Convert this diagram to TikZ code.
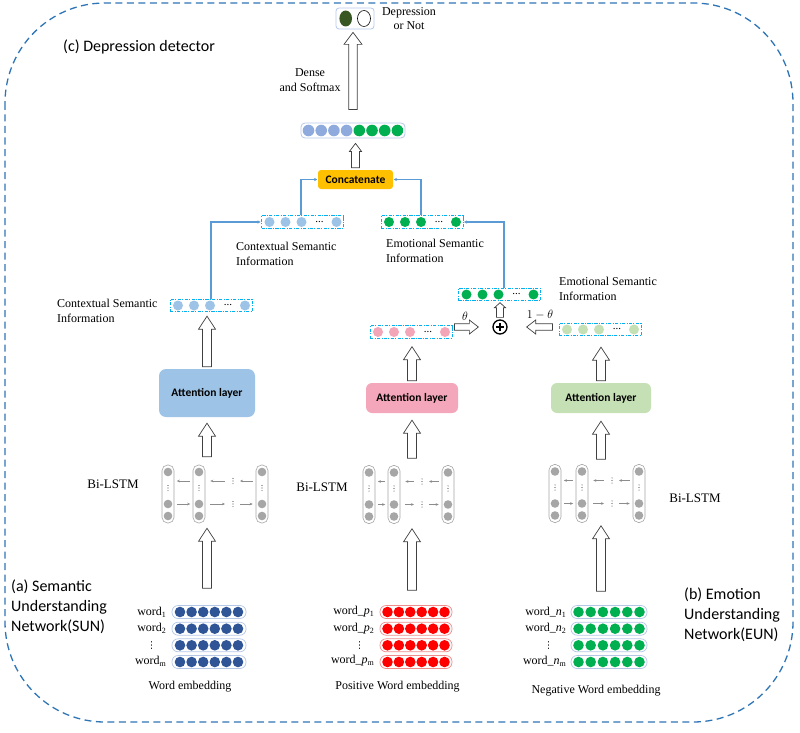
\documentclass[tikz,border=0pt]{standalone}
\usepackage{fontspec}
\setmainfont{Liberation Serif}
\newfontfamily\carl{Carlito}
\newfontfamily\djv{DejaVu Sans}
\usetikzlibrary{calc,arrows.meta}
\definecolor{outerblue}{RGB}{46,117,182}
\definecolor{vecborder}{RGB}{0,176,240}
\definecolor{ctxblue}{RGB}{157,195,230}
\definecolor{catblue}{RGB}{143,170,220}
\definecolor{emogreen}{RGB}{0,176,80}
\definecolor{pospink}{RGB}{244,166,185}
\definecolor{attblue}{RGB}{157,195,230}
\definecolor{attpink}{RGB}{244,166,186}
\definecolor{lgreen}{RGB}{197,224,180}
\definecolor{wblue}{RGB}{47,85,151}
\definecolor{wred}{RGB}{255,0,0}
\definecolor{lgray}{RGB}{166,166,166}
\definecolor{catorange}{RGB}{255,192,0}
\definecolor{connblue}{RGB}{91,155,213}
\definecolor{outgreen}{RGB}{56,87,35}
\definecolor{boxborder}{RGB}{180,199,231}
\definecolor{redborder}{RGB}{240,140,140}
\tikzset{
  ba shaft/.store in=\bashaft, ba head/.store in=\bahead, ba len/.store in=\balen,
  ba shaft=4.5pt, ba head=8.5pt, ba len=13pt,
  blockarrow/.style={draw=black!75, fill=white, line width=0.7pt, line join=miter,
    to path={
      ($(\tikztostart)!\bashaft!90:(\tikztotarget)$)
      -- ($($(\tikztotarget)!\balen!(\tikztostart)$)!\bashaft!90:(\tikztotarget)$)
      -- ($($(\tikztotarget)!\balen!(\tikztostart)$)!\bahead!90:(\tikztotarget)$)
      -- (\tikztotarget)
      -- ($($(\tikztotarget)!\balen!(\tikztostart)$)!\bahead!-90:(\tikztotarget)$)
      -- ($($(\tikztotarget)!\balen!(\tikztostart)$)!\bashaft!-90:(\tikztotarget)$)
      -- ($(\tikztostart)!\bashaft!-90:(\tikztotarget)$) -- cycle
    }},
  outer/.style={draw=outerblue, line width=1.3pt, dash pattern=on 7pt off 4.5pt, rounded corners=100pt},
  vecbox/.style={draw=vecborder, line width=0.9pt, dash pattern=on 3.2pt off 1.4pt on 0.9pt off 1.4pt, minimum width=82pt, minimum height=12.5pt, inner sep=0pt},
  conn/.style={draw=connblue, line width=1.1pt, -{Latex[length=3.5pt,width=3.5pt]}},
  attbox/.style={rounded corners=7pt, inner sep=0pt, font=\carl\bfseries\fontsize{11.5}{12}\selectfont},
  lcol/.style={draw=black!35, line width=0.6pt, fill=white, rounded corners=5.5pt, minimum width=12pt, minimum height=58pt, inner sep=0pt},
  larr/.style={draw=black!45, line width=0.5pt, -{Stealth[length=3pt,width=2.6pt]}},
  erow/.style={fill=white, line width=0.7pt, rounded corners=6pt, minimum height=13pt, inner sep=0pt},
  serif12/.style={font=\fontsize{12}{15}\selectfont, inner sep=0pt},
  vdl/.style={font=\djv\fontsize{9.5}{9.5}\selectfont, inner sep=0pt},
  sanslab/.style={font=\carl\fontsize{16}{20}\selectfont, inner sep=0pt, align=left}
}
\newcommand\vdotsat[1]{\foreach \kk in {-2.6,0,2.6} {\fill[black!65] #1 ++(0,\kk) circle[radius=0.6pt];}}
\newcommand\vecfill[2]{%
  \foreach \dx in {-33,-17,-1,34} {\fill[#2] ($(#1.center)+(\dx,0)$) circle[radius=5pt];}
  \node[font=\fontsize{11}{11}\selectfont, inner sep=0pt] (#1dots) at ($(#1.center)+(17,0)$) {...};
}
\newcommand\bilstm[6]{%
  \node[lcol] (#1a) at (#2,#6) {};
  \node[lcol] (#1b) at (#3,#6) {};
  \node[lcol] (#1c) at (#5,#6) {};
  \coordinate (#1d) at (#4,#6);
  \foreach \nn in {#1a,#1b,#1c} {%
    \foreach \dy in {-22,10,22} {\fill[lgray] ($(\nn)+(0,\dy)$) circle[radius=4.3pt];}
    \vdotsat{($(\nn)+(0,-6)$)}
  }
  \vdotsat{($(#1d)+(0,-13)$)}
  \vdotsat{($(#1d)+(0,10)$)}
  \draw[larr, shorten <=2.5pt, shorten >=2.5pt] ([yshift=13pt]#1b.west) -- ([yshift=13pt]#1a.east);
  \draw[larr, shorten <=8pt, shorten >=5pt] ([yshift=13pt]#1d) -- ([yshift=13pt]#1b.east);
  \draw[larr, shorten <=3pt, shorten >=7pt] ([yshift=13pt]#1c.west) -- ([yshift=13pt]#1d);
  \draw[larr, shorten <=2.5pt, shorten >=2.5pt] ([yshift=-10pt]#1a.east) -- ([yshift=-10pt]#1b.west);
  \draw[larr, shorten <=5pt, shorten >=8pt] ([yshift=-10pt]#1b.east) -- ([yshift=-10pt]#1d);
  \draw[larr, shorten <=7pt, shorten >=3pt] ([yshift=-10pt]#1d) -- ([yshift=-10pt]#1c.west);
}
\newcommand\embrows[6]{%
  \foreach \ri/\yy in {1/612,2/628.7,3/645.3,4/662} {%
    \node[erow, draw=#6, minimum width=#4pt] (#1\ri) at (#2,\yy) {};
    \foreach \ci in {-2.5,-1.5,-0.5,0.5,1.5,2.5} {\fill[#5] ($(#1\ri)+(\ci*#3,0)$) circle[radius=5.3pt];}
  }
}
\begin{document}
\begin{tikzpicture}[x=1pt,y=-1pt]
\useasboundingbox (0,0) rectangle (800,733);
\draw[outer] (5,3) rectangle (793,722);

% output
\node[draw=boxborder, line width=0.8pt, rounded corners=3pt, minimum width=38pt, minimum height=21pt, inner sep=0pt] (out) at (355,18.5) {};
\fill[outgreen] ($(out.center)+(-9.3,0)$) ellipse[x radius=6.3pt, y radius=8pt];
\draw[line width=0.6pt] ($(out.center)+(9,0)$) ellipse[x radius=6.5pt, y radius=8pt];
\node[inner sep=0pt, font=\fontsize{12}{14}\selectfont, align=center] (outlab) at (409,19) {Depression\\or Not};

% concatenated vector
\node[draw=boxborder, line width=0.8pt, rounded corners=4pt, minimum width=104pt, minimum height=15pt, inner sep=0pt] (cvec) at (353,130.5) {};
\foreach \i in {0,...,3} {\fill[catblue] ($(cvec.center)+(-44.5+12.7*\i,0)$) circle[radius=5.8pt];}
\foreach \i in {4,...,7} {\fill[emogreen] ($(cvec.center)+(-44.5+12.7*\i,0)$) circle[radius=5.8pt];}
\node[serif12, align=center] (dense) at (310,80.5) {Dense\\and Softmax};
\node[attbox, fill=catorange, minimum width=75pt, minimum height=19pt, rounded corners=3pt] (concat) at (355.5,179.5) {Concatenate};
\draw[blockarrow, ba shaft=4.3pt, ba head=9pt, ba len=12pt] ($(cvec.north)+(0,-13)$) to ($(cvec.north |- out.south)+(0,3)$);
\draw[blockarrow, ba shaft=4pt, ba head=6pt, ba len=8pt] ($(concat.north)+(0,-2)$) to ($(concat.north |- cvec.south)+(0,5)$);

% vectors
\node[vecbox] (ctxU) at (302.5,222) {}; \vecfill{ctxU}{ctxblue}
\node[vecbox] (emoU) at (422,222) {}; \vecfill{emoU}{emogreen}
\node[vecbox] (ctxL) at (211,305.5) {}; \vecfill{ctxL}{ctxblue}
\node[vecbox] (emoL) at (499.5,294.5) {}; \vecfill{emoL}{emogreen}
\node[vecbox] (pos) at (411,332) {}; \vecfill{pos}{pospink}
\node[vecbox] (neg) at (600,329.5) {}; \vecfill{neg}{lgreen}

\draw[conn] ($(ctxU.north)+(-1.5,0)$) |- (concat.west);
\draw[conn] ($(emoU.north)+(-1,0)$) |- (concat.east);
\draw[conn] (ctxL.north) |- (ctxU.west);
\draw[conn] ($(emoL.north)+(4.5,0)$) |- (emoU.east);

\node[serif12, anchor=west, align=left] (lab1) at (236,253.5) {Contextual Semantic\\Information};
\node[serif12, anchor=west, align=left] (lab2) at (57,310.5) {Contextual Semantic\\Information};
\node[serif12, anchor=west, align=left] (lab3) at (386,250.5) {Emotional Semantic\\Information};
\node[serif12, anchor=west, align=left] (lab4) at (559,288.5) {Emotional Semantic\\Information};

% plus
\node[circle, draw, line width=1.3pt, minimum size=14pt, inner sep=0pt] (plus) at (500,327) {};
\draw[line width=1.7pt] ($(plus)+(-4.2,0)$) -- ($(plus)+(4.2,0)$) ($(plus)+(0,-4.2)$) -- ($(plus)+(0,4.2)$);
\draw[blockarrow, ba shaft=3.3pt, ba head=7pt, ba len=9pt] ($(pos.east |- plus.west)+(2,0)$) to ($(plus.west)+(-14,0)$);
\draw[blockarrow, ba shaft=3.3pt, ba head=7pt, ba len=9pt] ($(neg.west |- plus.east)+(-6,0)$) to ($(plus.east)+(19,0)$);
\draw[blockarrow, ba shaft=3.5pt, ba head=5.5pt, ba len=5pt] ($(plus.north)+(0,-2)$) to ($(plus.north |- emoL.south)+(0,1.5)$);
\node[inner sep=0pt, font=\fontsize{12}{12}\selectfont] (th) at ($(plus)+(-35,-11)$) {$\theta$};
\node[inner sep=0pt, font=\fontsize{12}{12}\selectfont] (th2) at ($(plus)+(40,-12)$) {$1-\theta$};

% attention layers
\node[attbox, fill=attblue, minimum width=96pt, minimum height=48pt] (att1) at (207,393) {Attention layer};
\node[attbox, fill=attpink, minimum width=92pt, minimum height=30pt, rounded corners=6pt] (att2) at (412,398) {Attention layer};
\node[attbox, fill=lgreen, minimum width=100pt, minimum height=30pt, rounded corners=6pt] (att3) at (601,398) {Attention layer};

% Bi-LSTM
\bilstm{L}{168}{199}{233}{262}{494}
\bilstm{M}{369}{394}{422}{448}{494.5}
\bilstm{R}{555}{582}{612}{639}{493.5}
\node[inner sep=0pt, font=\fontsize{13}{13}\selectfont] (bl1) at (113,484) {Bi-LSTM};
\node[inner sep=0pt, font=\fontsize{13}{13}\selectfont] (bl2) at (322,487) {Bi-LSTM};
\node[inner sep=0pt, font=\fontsize{13}{13}\selectfont] (bl3) at (695,498) {Bi-LSTM};

% embeddings
\embrows{eL}{209}{11.6}{74}{wblue}{boxborder}
\embrows{eM}{416}{11.4}{72}{wred}{redborder}
\embrows{eR}{609}{12.2}{76}{emogreen}{boxborder}

\node[serif12, anchor=east] (wl1) at ($(eL1.west)+(-5,0)$) {word\textsubscript{1}};
\node[serif12, anchor=east] (wl2) at ($(eL2.west)+(-5,0)$) {word\textsubscript{2}};
\node[vdl] (wl3) at ($(eL3.west)+(-20,0.5)$) {⋮};
\node[serif12, anchor=east] (wl4) at ($(eL4.west)+(-5,-1)$) {word\textsubscript{m}};
\node[serif12, anchor=east] (wm1) at ($(eM1.west)+(-5,0)$) {word\_\textit{p}\textsubscript{1}};
\node[serif12, anchor=east] (wm2) at ($(eM2.west)+(-5,0)$) {word\_\textit{p}\textsubscript{2}};
\node[vdl] (wm3) at ($(eM3.west)+(-20,0.5)$) {⋮};
\node[serif12, anchor=east] (wm4) at ($(eM4.west)+(-5,-1)$) {word\_\textit{p}\textsubscript{m}};
\node[serif12, anchor=east] (wr1) at ($(eR1.west)+(-4,0)$) {word\_\textit{n}\textsubscript{1}};
\node[serif12, anchor=east] (wr2) at ($(eR2.west)+(-4,0)$) {word\_\textit{n}\textsubscript{2}};
\node[vdl] (wr3) at ($(eR3.west)+(-22,0.5)$) {⋮};
\node[serif12, anchor=east] (wr4) at ($(eR4.west)+(-4,-1)$) {word\_\textit{n}\textsubscript{m}};

\node[serif12] (capL) at (190,687) {Word embedding};
\node[serif12] (capM) at (397.5,687) {Positive Word embedding};
\node[serif12] (capR) at (596,691) {Negative Word embedding};

% block arrows
\draw[blockarrow] ($(att1.north)+(0,-2)$) to ($(att1.north |- ctxL.south)+(0,4)$);
\draw[blockarrow] ($(att1.south |- Lb.north)+(0,-8)$) to ($(att1.south)+(0,6)$);
\draw[blockarrow] ($(att1.south |- eL1.north)+(0,-17)$) to ($(att1.south |- Lb.south)+(0,5)$);
\draw[blockarrow] ($(att2.north)+(0,-2)$) to ($(att2.north |- pos.south)+(0,8)$);
\draw[blockarrow] ($(att2.south |- Mb.north)+(0,-7)$) to ($(att2.south)+(0,7)$);
\draw[blockarrow] ($(att2.south |- eM1.north)+(0,-15)$) to ($(att2.south |- Mb.south)+(0,5)$);
\draw[blockarrow] ($(att3.north)+(0,-2)$) to ($(att3.north |- neg.south)+(0,11)$);
\draw[blockarrow] ($(att3.south |- Rb.north)+(0,-5)$) to ($(att3.south)+(0,8)$);
\draw[blockarrow] ($(att3.south |- eR1.north)+(0,-14)$) to ($(att3.south |- Rb.south)+(0,3)$);

% section labels
\node[sanslab, anchor=west] (la) at (11,607) {(a) Semantic\\Understanding\\Network(SUN)};
\node[sanslab, anchor=west] (lb) at (684,615) {(b) Emotion\\Understanding\\Network(EUN)};
\node[sanslab, anchor=west] (lc) at (63,47) {(c) Depression detector};
\end{tikzpicture}
\end{document}
